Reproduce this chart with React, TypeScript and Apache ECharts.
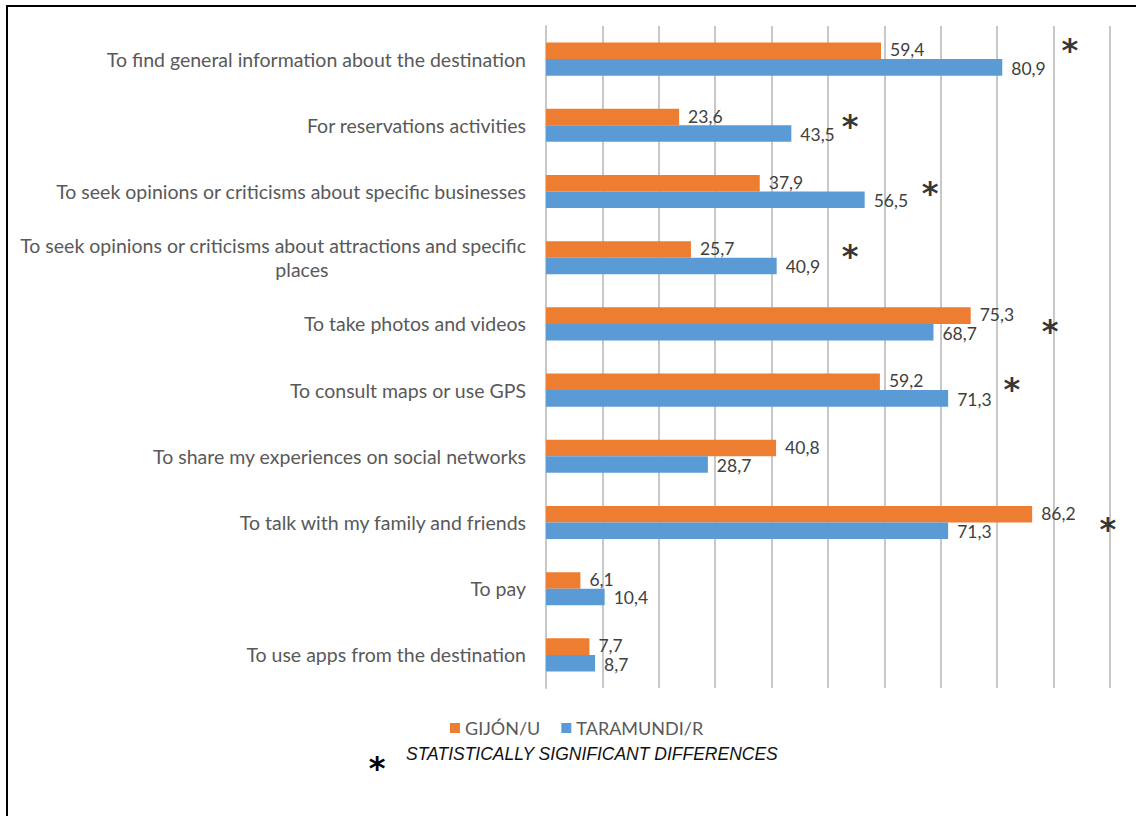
import React, { useEffect, useRef } from "react";
import * as echarts from "echarts";

const categories = [
  "To find general information about the destination",
  "For reservations activities",
  "To seek opinions or criticisms about specific businesses",
  "To seek opinions or criticisms about attractions and specific\nplaces",
  "To take photos and videos",
  "To consult maps or use GPS",
  "To share my experiences on social networks",
  "To talk with my family and friends",
  "To pay",
  "To use apps from the destination",
];
const gijon = [59.4, 23.6, 37.9, 25.7, 75.3, 59.2, 40.8, 86.2, 6.1, 7.7];
const taramundi = [80.9, 43.5, 56.5, 40.9, 68.7, 71.3, 28.7, 71.3, 10.4, 8.7];
const seriesNames = ["GIJÓN/U", "TARAMUNDI/R"];
// significance markers: x position (axis value) per category, null = none
const asteriskX = [92.9, 53.9, 68.1, 53.9, 89.4, 82.6, null, 99.6, null, null];
const asteriskDy = [-15, -5, -4.5, -8, 1, -7, 0, 0, 0, 0];
const footnote = "STATISTICALLY SIGNIFICANT DIFFERENCES";

const fmt = (v: number) => v.toFixed(1).replace(".", ",");

export default function App() {
  const ref = useRef<HTMLDivElement>(null);
  useEffect(() => {
    const chart = echarts.init(ref.current!, null, { renderer: "svg" });
    const labelFont = "Lato, 'Open Sans', sans-serif";
    const starData: any[] = [];
    asteriskX.forEach((x, i) => {
      if (x !== null) {
        starData.push({
          value: [x, categories[i]],
          label: { offset: [0, asteriskDy[i] + 6] },
        });
      }
    });
    const valueLabel = (dy: number) => ({
      show: true,
      position: "right",
      distance: 9,
      offset: [0, dy],
      color: "#404040",
      fontSize: 17.5,
      lineHeight: 16,
      fontFamily: labelFont,
      formatter: (p: any) => fmt(p.value),
    });
    chart.setOption({
      animation: false,
      backgroundColor: "#ffffff",
      grid: { left: 546, right: 26, top: 26, bottom: 128, containLabel: false },
      legend: {
        data: seriesNames,
        left: 445,
        top: 714,
        itemWidth: 10,
        itemHeight: 10,
        itemGap: 21,
        icon: "rect",
        textStyle: { color: "#595959", fontSize: 18, fontFamily: labelFont },
      },
      xAxis: {
        type: "value",
        min: 0,
        max: 100,
        interval: 10,
        axisLabel: { show: false },
        axisLine: { show: false },
        axisTick: { show: false },
        splitLine: { show: true, lineStyle: { color: "#c8c8c8", width: 2 } },
      },
      yAxis: {
        type: "category",
        data: categories,
        inverse: true,
        axisLine: { show: true, lineStyle: { color: "#c8c8c8", width: 2 } },
        axisTick: { show: false },
        axisLabel: {
          margin: 20,
          color: "#595959",
          fontSize: 19.5,
          fontFamily: labelFont,
          lineHeight: 24,
          formatter: (v: string) => {
            const parts = v.split("\n");
            if (parts.length < 2) return v;
            return parts[0] + "\n{p|" + parts[1] + "}";
          },
          rich: {
            p: {
              align: "center",
              padding: [0, 0, 0, 58],
              color: "#595959",
              fontSize: 19.5,
              fontFamily: labelFont,
              lineHeight: 24,
            },
          },
        },
      },
      series: [
        {
          name: seriesNames[0],
          type: "bar",
          data: gijon,
          barGap: "0%",
          barCategoryGap: "50%",
          itemStyle: { color: "#ED7D31" },
          label: valueLabel(-1),
        },
        {
          name: seriesNames[1],
          type: "bar",
          data: taramundi,
          itemStyle: { color: "#5B9BD5" },
          label: valueLabel(1),
        },
        {
          name: "sig",
          type: "scatter",
          data: starData,
          symbolSize: 0,
          silent: true,
          label: {
            show: true,
            position: "inside",
            formatter: "*",
            color: "#000",
            fontSize: 32,
            fontWeight: "bold",
            fontFamily: "'DejaVu Sans', sans-serif",
          },
        },
      ],
      graphic: [
        {
          type: "rect",
          shape: { x: 7, y: 6, width: 1300, height: 1000 },
          style: { fill: "none", stroke: "#000", lineWidth: 2 },
          silent: true,
        },
        {
          type: "text",
          x: 377,
          y: 768,
          style: {
            text: "*",
            fill: "#000",
            fontSize: 32,
            fontWeight: "bold",
            fontFamily: "'DejaVu Sans', sans-serif",
            align: "center",
            verticalAlign: "middle",
          },
        },
        {
          type: "text",
          x: 406,
          y: 754,
          style: {
            text: footnote,
            fill: "#111",
            fontSize: 17.5,
            fontStyle: "italic",
            fontFamily: "'Liberation Sans', Arial, sans-serif",
            verticalAlign: "middle",
          },
        },
      ],
    });
    return () => chart.dispose();
  }, []);
  return (
    <div
      ref={ref}
      style={{ position: "fixed", left: 0, top: 0, width: 1136, height: 816 }}
    />
  );
}
